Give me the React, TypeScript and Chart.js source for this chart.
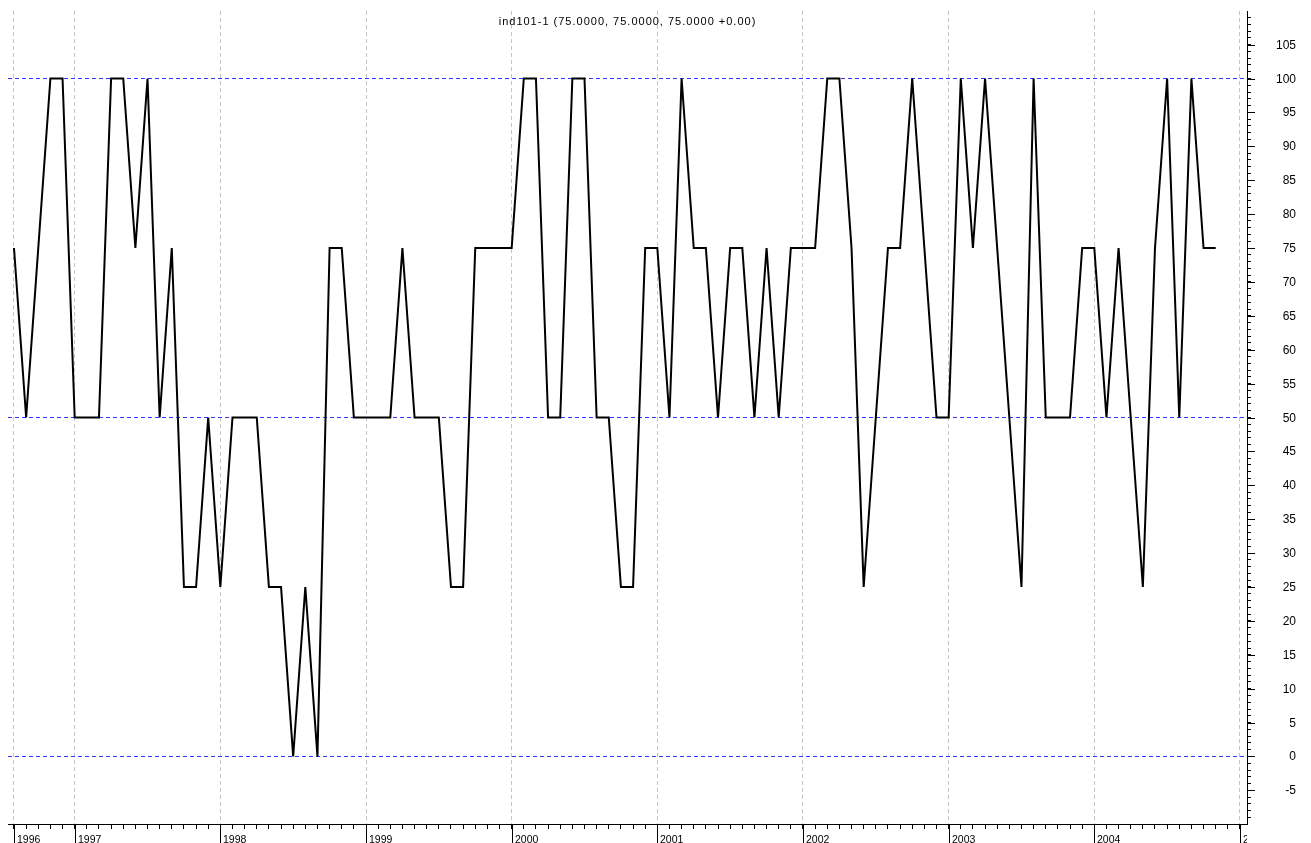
import { useEffect, useRef } from 'react';
import { Chart, registerables } from 'chart.js';

Chart.register(...registerables);

const WIDTH = 1311;
const HEIGHT = 843;
const FONT = "'Liberation Sans', Arial, sans-serif";

const TITLE = 'ind101-1 (75.0000, 75.0000, 75.0000 +0.00)';

// One reading per month, the first one being August 1996.
const values: number[] = [
  75, 50, 75, 100, 100, 50, 50, 50, 100, 100, 75, 100, 50, 75, 25, 25, 50, 25, 50, 50,
  50, 25, 25, 0, 25, 0, 75, 75, 50, 50, 50, 50, 75, 50, 50, 50, 25, 25, 75, 75,
  75, 75, 100, 100, 50, 50, 100, 100, 50, 50, 25, 25, 75, 75, 50, 100, 75, 75, 50, 75,
  75, 50, 75, 50, 75, 75, 75, 100, 100, 75, 25, 50, 75, 75, 100, 75, 50, 50, 100, 75,
  100, 75, 50, 25, 100, 50, 50, 50, 75, 75, 50, 75, 50, 25, 75, 100, 50, 100, 75, 75,
];

// Year marks on the time axis (month index) and their labels.
const yearIndex: number[] = [0, 5, 17, 29, 41, 53, 65, 77, 89, 101];
const yearLabels: string[] = ['1996', '1997', '1998', '1999', '2000', '2001', '2002', '2003', '2004', '2005'];

// Value-axis labels.
const valueLabels: number[] = [105, 100, 95, 90, 85, 80, 75, 70, 65, 60, 55, 50, 45, 40, 35, 30, 25, 20, 15, 10, 5, 0, -5];

// Dashed reference levels.
const refLevels: number[] = [0, 50, 100];

const X_MIN = -0.494;
const X_MAX = 101.58;
const Y_MIN = -9.956;
const Y_MAX = 109.956;
const MONTH_COUNT = 102;

// Blue dashed reference levels, under the series.
const refLines = {
  id: 'refLines',
  beforeDatasetsDraw(chart: any) {
    const { ctx, chartArea } = chart;
    const ys = chart.scales.y;
    ctx.save();
    ctx.strokeStyle = '#3535ff';
    ctx.lineWidth = 1;
    ctx.setLineDash([4, 3]);
    ctx.beginPath();
    for (const lv of refLevels) {
      const py = Math.round(ys.getPixelForValue(lv) - 0.5) + 0.5;
      ctx.moveTo(chartArea.left, py);
      ctx.lineTo(chartArea.right, py);
    }
    ctx.stroke();
    ctx.restore();
  },
};

const decor = {
  id: 'decor',
  afterDraw(chart: any) {
    const { ctx, chartArea } = chart;
    const xs = chart.scales.x;
    const ys = chart.scales.y;
    ctx.save();
    ctx.strokeStyle = '#000';
    ctx.lineWidth = 1;
    ctx.setLineDash([]);
    ctx.beginPath();
    // long year ticks below the time axis
    for (const i of yearIndex) {
      const px = Math.round(xs.getPixelForValue(i)) + 0.5;
      ctx.moveTo(px, chartArea.bottom);
      ctx.lineTo(px, HEIGHT);
    }
    // long ticks every 5 units on the value axis
    for (const v of valueLabels) {
      const py = Math.round(ys.getPixelForValue(v)) + 0.5;
      ctx.moveTo(chartArea.right, py);
      ctx.lineTo(chartArea.right + 8, py);
    }
    ctx.stroke();

    // value labels
    ctx.fillStyle = '#000';
    ctx.font = `12px ${FONT}`;
    ctx.textAlign = 'right';
    ctx.textBaseline = 'middle';
    for (const v of valueLabels) {
      ctx.fillText(String(v), 1296, Math.round(ys.getPixelForValue(v)) + 1);
    }

    // year labels, clipped at the right end of the plot
    ctx.save();
    ctx.beginPath();
    ctx.rect(0, chartArea.bottom, chartArea.right, HEIGHT - chartArea.bottom);
    ctx.clip();
    ctx.font = `10.5px ${FONT}`;
    ctx.textAlign = 'left';
    ctx.textBaseline = 'alphabetic';
    yearIndex.forEach((i, k) => {
      ctx.fillText(yearLabels[k], Math.round(xs.getPixelForValue(i)) + 3, HEIGHT - 0.5);
    });
    ctx.restore();

    // title
    ctx.font = `11px ${FONT}`;
    (ctx as any).letterSpacing = '1px';
    ctx.textAlign = 'center';
    ctx.textBaseline = 'alphabetic';
    ctx.fillText(TITLE, (chartArea.left + chartArea.right) / 2, 25);
    ctx.restore();
  },
};

export default function App() {
  const canvasRef = useRef<HTMLCanvasElement | null>(null);

  useEffect(() => {
    const canvas = canvasRef.current;
    if (!canvas) return;

    const chart = new Chart(canvas, {
      type: 'line',
      data: {
        datasets: [
          {
            data: values.map((v, i) => ({ x: i, y: v })),
            borderColor: '#000',
            borderWidth: 2,
            pointRadius: 0,
            tension: 0,
            borderJoinStyle: 'miter',
          },
        ],
      },
      options: {
        responsive: false,
        animation: false,
        devicePixelRatio: 1,
        events: [],
        layout: { padding: { left: 8, top: 11, right: 0, bottom: 0 } },
        plugins: {
          legend: { display: false },
          tooltip: { enabled: false },
          title: { display: false },
        },
        scales: {
          x: {
            type: 'linear',
            min: X_MIN,
            max: X_MAX,
            afterBuildTicks: (s: any) => {
              s.ticks = Array.from({ length: MONTH_COUNT }, (_, i) => ({ value: i }));
            },
            afterFit: (s: any) => {
              s.height = 19;
              s.paddingLeft = 0;
              s.paddingRight = 0;
            },
            grid: {
              display: true,
              drawOnChartArea: true,
              drawTicks: true,
              tickLength: 5,
              tickColor: '#000',
              tickBorderDash: [],
              lineWidth: 1,
              color: (c: any) =>
                c.tick && yearIndex.includes(c.tick.value) ? '#c4c4c4' : 'rgba(0,0,0,0)',
            },
            border: { display: true, color: '#000', width: 1, dash: [4, 3] },
            ticks: { display: false },
          },
          y: {
            type: 'linear',
            position: 'right',
            min: Y_MIN,
            max: Y_MAX,
            afterBuildTicks: (s: any) => {
              const t = [];
              for (let v = Math.ceil(Y_MIN); v <= Math.floor(Y_MAX); v++) t.push({ value: v });
              s.ticks = t;
            },
            afterFit: (s: any) => {
              s.width = 64;
              s.paddingTop = 0;
              s.paddingBottom = 0;
            },
            grid: {
              display: true,
              drawOnChartArea: false,
              drawTicks: true,
              tickLength: 4,
              tickColor: '#000',
            },
            border: { display: true, color: '#000', width: 1 },
            ticks: { display: false },
          },
        },
      },
      plugins: [refLines, decor],
    } as any);

    return () => chart.destroy();
  }, []);

  return (
    <canvas
      ref={canvasRef}
      width={WIDTH}
      height={HEIGHT}
      style={{ position: 'absolute', left: 0, top: 0, width: WIDTH, height: HEIGHT, display: 'block' }}
    />
  );
}
